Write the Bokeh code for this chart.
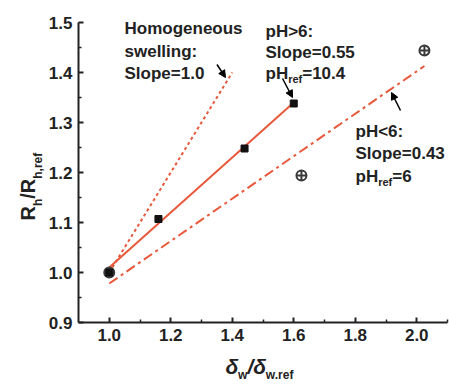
import math
from bokeh.plotting import figure
from bokeh.models import Label, Arrow, NormalHead, FixedTicker
from bokeh.embed import file_html
from bokeh.resources import INLINE

# ---------------- data ----------------
sq_x = [1.0, 1.16, 1.44, 1.60]          # pH>6 points
sq_y = [1.0, 1.107, 1.248, 1.338]
cc_x = [1.0, 1.625, 2.025]              # pH<6 points
cc_y = [1.0, 1.194, 1.444]
fit_hi_x = [1.0, 1.6]                   # slope 0.55
fit_hi_y = [1.01, 1.34]
homog_x = [1.0, 1.4]                    # slope 1.0
homog_y = [1.0, 1.4]
fit_lo_x = [1.0, 2.025]                 # slope 0.43
fit_lo_y = [0.978, 1.413]
x_ticks = [1.0, 1.2, 1.4, 1.6, 1.8, 2.0]
y_ticks = [0.9, 1.0, 1.1, 1.2, 1.3, 1.4, 1.5]
x_minor = [1.1, 1.3, 1.5, 1.7, 1.9, 2.1]
y_minor = [0.95, 1.05, 1.15, 1.25, 1.35, 1.45]

X0, X1, Y0, Y1 = 0.9, 2.1, 0.9, 1.5
W, H = 449, 384
BL, BR, BT, BB = 78, 2, 22, 62          # where the axes sit inside the canvas
RED = "#e8583a"
FONT = "Liberation Sans"

fw = (X1 - X0) / (W - BL - BR)
fh = (Y1 - Y0) / (H - BT - BB)
XR = (X0 - BL * fw, X1 + BR * fw)
YR = (Y0 - BB * fh, Y1 + BT * fh)

p = figure(width=W, height=H, x_range=XR, y_range=YR,
           output_backend="svg", toolbar_location=None, title=None,
           min_border=0, background_fill_color="white",
           border_fill_color="white", outline_line_color=None)
p.grid.visible = False

for ax in (p.xaxis[0], p.yaxis[0]):
    ax.axis_line_width = 2
    ax.axis_line_color = "#222222"
    ax.major_tick_line_color = "#222222"
    ax.minor_tick_line_color = "#222222"
    ax.major_tick_line_width = 2
    ax.minor_tick_line_width = 1.5
    ax.major_tick_in = 5
    ax.major_tick_out = 0
    ax.minor_tick_in = 3
    ax.minor_tick_out = 0
    ax.major_label_text_font = FONT
    ax.major_label_text_font_style = "bold"
    ax.major_label_text_font_size = "17px"
    ax.major_label_text_color = "#222222"
    ax.major_label_standoff = 6
p.xaxis[0].ticker = FixedTicker(ticks=x_ticks, minor_ticks=x_minor)
p.yaxis[0].ticker = FixedTicker(ticks=y_ticks, minor_ticks=y_minor)
p.xaxis[0].major_label_overrides = {t: f"{t:.1f}" for t in x_ticks}
p.yaxis[0].major_label_overrides = {t: f"{t:.1f}" for t in y_ticks}
p.xaxis[0].bounds = (X0, X1)
p.yaxis[0].bounds = (Y0, Y1)
p.xaxis[0].fixed_location = Y0
p.yaxis[0].fixed_location = X0

# ---------------- lines & points ----------------
p.line(homog_x, homog_y, line_color=RED, line_width=2, line_dash="3 3")
p.line(fit_lo_x, fit_lo_y, line_color=RED, line_width=2, line_dash="10 4 3 4")
p.line(fit_hi_x, fit_hi_y, line_color=RED, line_width=2)
p.scatter(cc_x, cc_y, marker="circle_cross", size=10, fill_color=None,
          line_color="#3a3a3a", line_width=2)
p.scatter(sq_x, sq_y, marker="square", size=7, color="#111111")

# ---------------- text helpers ----------------
def dx(sx): return XR[0] + sx * fw
def dy(sy): return YR[0] + (H - sy) * fh

CW = {'p': .611, 'H': .722, '=': .584, '0': .556, '1': .556, '4': .556, '6': .556,
      '.': .278, 'r': .389, 'e': .556, 'f': .333, 'R': .722, 'h': .611, '/': .278,
      ',': .278, 'w': .778, 'δ': .6}
def tw(s, size): return sum(CW.get(c, .6) for c in s) * size

def lab(sx, sy, s, size, style="bold", angle=0.0):
    p.add_layout(Label(x=dx(sx), y=dy(sy), text=s, text_font=FONT,
                       text_font_size=f"{size}px", text_font_style=style,
                       text_color="#222222", text_baseline="alphabetic",
                       text_align="left", angle=angle))

def lines(sx, sy_list, texts, size=17):
    for sy, t in zip(sy_list, texts):
        lab(sx, sy, t, size)

def ph_ref(sx, sy, rest, size=17):
    lab(sx, sy, "pH", size)
    x = sx + tw("pH", size)
    lab(x, sy + 5, "ref", 11)
    x += tw("ref", 11)
    lab(x, sy, rest, size)

# annotations (baselines)
lines(124, [28, 51, 73], ["Homogeneous", "swelling:", "Slope=1.0"])
lines(265, [31, 52], ["pH>6:", "Slope=0.55"])
ph_ref(265, 73, "=10.4")
lines(355, [131, 153], ["pH<6:", "Slope=0.43"])
ph_ref(355, 176, "=6")

head = lambda: NormalHead(size=7, fill_color="black", line_color="black")
for (a, b, c, d) in [(216.5, 64, 225, 77), (282, 78, 292, 97), (400, 110, 391, 92)]:
    p.add_layout(Arrow(end=head(), x_start=dx(a), y_start=dy(b), x_end=dx(c),
                       y_end=dy(d), line_width=1.5, line_color="black"))

# y axis label: R_h / R_h,ref (rotated)
y = 220
for s, size, base in [("R", 20, 27), ("h", 12, 37), ("/", 20, 27), ("R", 20, 27), ("h,ref", 12, 37)]:
    lab(base, y, s, size, angle=math.pi / 2)
    y -= tw(s, size)

# x axis label: δ_w / δ_w.ref
x = 225
for s, size, base, st in [("δ", 21, 366, "bold italic"), ("w", 12, 374, "bold"),
                          ("/", 21, 366, "bold italic"), ("δ", 21, 366, "bold italic"),
                          ("w.ref", 12, 374, "bold")]:
    lab(x, base, s, size, style=st)
    x += tw(s, size)

open("out.html", "w").write(file_html(p, INLINE))
